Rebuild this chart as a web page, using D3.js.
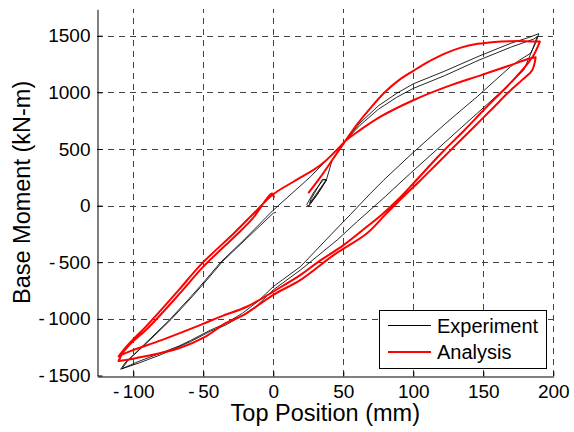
<!DOCTYPE html>
<html>
<head>
<meta charset="utf-8">
<script src="https://cdn.jsdelivr.net/npm/d3@7"></script>
<style>
  html, body { margin: 0; padding: 0; background: #fff; }
  svg { display: block; }
  text { font-family: "Liberation Sans", Arial, Helvetica, sans-serif; fill: #000; }
</style>
</head>
<body>
<svg id="chart" width="574" height="432"></svg>
<script>
// ---------- data ----------
const xTicks = [-100, -50, 0, 50, 100, 150, 200];
const yTicks = [-1500, -1000, -500, 0, 500, 1000, 1500];
const xLabel = "Top Position (mm)";
const yLabel = "Base Moment (kN-m)";
const seriesNames = ["Experiment", "Analysis"];

// Experiment branches [top position mm, base moment kN-m]
const expStart = [[25,-10],[31,90],[38,228],[36,232],[29,120],[24,10],[25,-5],[32,110],[38,225],[35,230],[27,60],[26,20],[34,160],[38,230],[42,400],[51.6,574]];
const expArcA = [[51.6,574],[62,730],[75,880],[88,990],[100,1075],[122,1185],[147,1320],[170,1435],[182,1482],[189.7,1518]];
const expDesc1 = [[189.7,1518],[187.4,1433],[183.8,1345],[176,1285],[169.5,1227],[158,1100],[145.7,962],[134,840],[121.9,712],[110,580],[98,447],[79,227],[69.5,109],[55,-80],[41,-259],[19.5,-538],[0,-715],[-11.4,-850],[-22,-950],[-34,-1040],[-45,-1100],[-59,-1190],[-67.4,-1240],[-80,-1300],[-96,-1375],[-109,-1445]];
const expRise1 = [[-109,-1445],[-106,-1390],[-100,-1320],[-90,-1200],[-75,-1020],[-60,-820],[-50,-680],[-37.6,-500],[-21,-303],[0,-40],[26.6,255],[51.6,574]];
const expArcB = [[51.6,574],[62,710],[75,850],[88,955],[100,1035],[122,1145],[147,1285],[170,1400],[186,1470],[188.5,1492]];
const expDesc2 = [[188.5,1492],[185,1374],[179,1198],[169.5,1080],[145.7,815],[121.9,551],[98,286],[80,80],[60,-140],[45.7,-303],[19.5,-568],[0,-744],[-11.4,-880],[-22,-970],[-34,-1055],[-45,-1110],[-59,-1200],[-80,-1315],[-96,-1390],[-108,-1440]];
const expRise2 = [[-108,-1440],[-104,-1370],[-98,-1300],[-88,-1185],[-73,-1005],[-58,-805],[-48,-665],[-36,-490],[-19,-290],[0,-67],[2,-58]];

// Analysis branches
const anaStart = [[25,110],[33,240],[42,400],[51.6,574]];
const anaArcUp = [[51.6,574],[60,720],[70,870],[80,1005],[90,1110],[100,1190],[110,1265],[122,1340],[134,1395],[146,1428],[158,1445],[170,1452],[180,1452],[190.4,1448]];
const anaDesc1 = [[190.4,1448],[186,1330],[179,1213],[170,1090],[162,990],[150,840],[137,672],[120,462],[100,195],[90,65],[76.6,-90],[67,-185],[50.4,-347],[31.4,-503],[19.5,-612],[0,-759],[-18.6,-891],[-37.6,-980],[-51.9,-1053],[-79.3,-1185],[-103,-1289],[-110.5,-1330]];
const anaRise1 = [[-110.5,-1330],[-106,-1260],[-100,-1180],[-91,-1068],[-67.4,-744],[-51.9,-523],[-28.1,-244],[-16.2,-97],[0,100],[15,215],[34,360],[51.6,574]];
const anaArcLow = [[51.6,574],[60,650],[76.6,785],[100,930],[124,1050],[148,1150],[170,1242],[181.4,1292],[187.4,1310]];
const anaDesc2 = [[187.4,1310],[185,1198],[178,1112],[168,1000],[156,850],[143,690],[130,530],[117,370],[105,222],[93,80],[80,-80],[67,-244],[43.3,-435],[19.5,-656],[0,-788],[-21,-965],[-34,-1038],[-48.4,-1156],[-67.4,-1259],[-98.4,-1347],[-110.5,-1372]];
const anaRise2 = [[-110.5,-1372],[-107.5,-1300],[-102,-1220],[-89.5,-1080],[-65.8,-762],[-50.3,-543],[-26.6,-262],[-14.7,-113],[-1,106],[0.6,70]];

const experiment = [].concat(expStart, expArcA, expDesc1, expRise1, expArcB, expDesc2, expRise2);
const analysis = [].concat(anaStart, anaArcUp, anaDesc1, anaRise1, anaArcLow, anaDesc2, anaRise2);

// ---------- layout ----------
const svg = d3.select("#chart");
const pLeft = 97.3, pRight = 553.3, pTop = 9.3, pBottom = 375.5;
const x = d3.scaleLinear().domain([-125.7, 200]).range([pLeft, pRight]);
const y = d3.scaleLinear().domain([-1500, 1733]).range([pBottom, pTop]);

// grid
const grid = svg.append("g").attr("stroke", "#222").attr("stroke-width", 1)
  .attr("stroke-dasharray", "6,5").attr("shape-rendering", "crispEdges").attr("opacity", 0.85);
grid.selectAll("line.gx").data(xTicks).join("line")
  .attr("class", "gx")
  .attr("x1", d => Math.round(x(d)) + 0.5).attr("x2", d => Math.round(x(d)) + 0.5)
  .attr("y1", pBottom).attr("y2", pTop);
grid.selectAll("line.gy").data(yTicks.filter(d => d !== -1500)).join("line")
  .attr("class", "gy")
  .attr("x1", pLeft).attr("x2", pRight)
  .attr("y1", d => Math.round(y(d)) + 0.5).attr("y2", d => Math.round(y(d)) + 0.5);

// axes
const xAxis = d3.axisBottom(x).tickValues(xTicks).tickFormat(d => String(d)).tickSizeInner(-5).tickSizeOuter(0).tickPadding(8);
const yAxis = d3.axisLeft(y).tickValues(yTicks).tickFormat(d => String(d)).tickSizeInner(-5).tickSizeOuter(0).tickPadding(7);

const gx = svg.append("g").attr("transform", `translate(0,${Math.round(pBottom) + 0.5})`).call(xAxis);
const gy = svg.append("g").attr("transform", `translate(${Math.round(pLeft) + 0.5},0)`).call(yAxis);
[gx, gy].forEach(g => {
  g.select(".domain").attr("stroke", "#000").attr("stroke-width", 1);
  g.selectAll(".tick line").attr("stroke", "#000");
  g.selectAll(".tick text")
    .attr("font-size", 19).attr("font-family", "Liberation Sans, Arial, sans-serif").attr("fill", "#000")
    .each(function(d) {
      // MATLAB-style spacing after the minus sign; text content stays "-1500" etc.
      const t = d3.select(this);
      const s = String(d);
      t.text(null);
      if (s.startsWith("-")) {
        t.append("tspan").text("-");
        t.append("tspan").attr("dx", 3.5).text(s.slice(1));
      } else {
        t.append("tspan").text(s);
      }
    });
});

// lines
const line = d3.line().x(d => x(d[0])).y(d => y(d[1]));
const smooth = d3.line().x(d => x(d[0])).y(d => y(d[1])).curve(d3.curveCatmullRom.alpha(0.5));

svg.append("path").datum(experiment)
  .attr("d", line).attr("fill", "none").attr("stroke", "#000").attr("stroke-width", 0.85)
  .attr("stroke-linejoin", "round");
svg.append("path").datum(analysis)
  .attr("d", smooth).attr("fill", "none").attr("stroke", "#ff0000").attr("stroke-width", 2)
  .attr("stroke-linejoin", "round");

// axis labels
svg.append("text").attr("x", (pLeft + pRight) / 2).attr("y", 421)
  .attr("text-anchor", "middle").attr("font-size", 23.5).text(xLabel);
svg.append("text").attr("transform", `translate(30,${(pTop + pBottom) / 2}) rotate(-90)`)
  .attr("text-anchor", "middle").attr("font-size", 23.5).text(yLabel);

// legend
const lg = svg.append("g");
lg.append("rect").attr("x", 379.5).attr("y", 310.5).attr("width", 167).attr("height", 58)
  .attr("fill", "#fff").attr("stroke", "#000").attr("stroke-width", 1);
const legendItems = [
  {name: seriesNames[0], color: "#000", w: 1, yy: 325.5},
  {name: seriesNames[1], color: "#ff0000", w: 2, yy: 352}
];
legendItems.forEach(it => {
  lg.append("line").attr("x1", 388).attr("x2", 431).attr("y1", it.yy).attr("y2", it.yy)
    .attr("stroke", it.color).attr("stroke-width", it.w);
  lg.append("text").attr("x", 437).attr("y", it.yy).attr("dy", "0.35em")
    .attr("font-size", 20).text(it.name);
});
</script>
</body>
</html>
